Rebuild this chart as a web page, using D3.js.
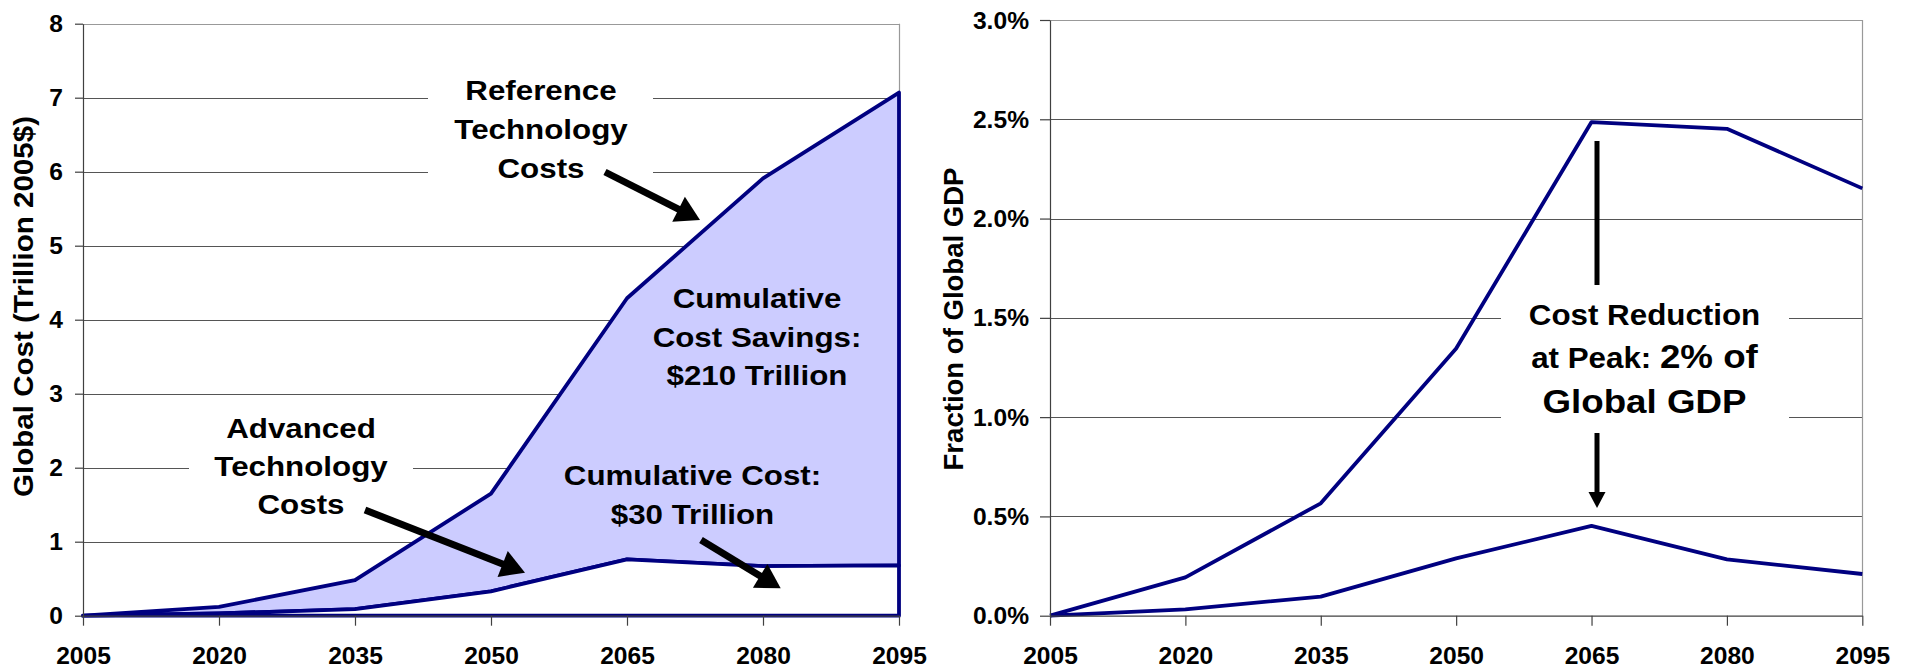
<!DOCTYPE html>
<html>
<head>
<meta charset="utf-8">
<script src="https://cdn.jsdelivr.net/npm/d3@7"></script>
<style>
  html, body { margin: 0; padding: 0; background: #fff; }
  svg { display: block; font-family: "Liberation Sans", Arial, sans-serif; font-weight: bold; }
</style>
</head>
<body>
<svg id="chart" width="1910" height="671"></svg>
<script>
// data
var years = [2005, 2020, 2035, 2050, 2065, 2080, 2095];
var refCost = [0, 0.12, 0.48, 1.65, 4.29, 5.91, 7.07];   // trillion 2005$
var advCost = [0, 0.03, 0.09, 0.33, 0.76, 0.67, 0.68];
var refGdp = [0, 0.193, 0.566, 1.346, 2.486, 2.452, 2.152]; // percent of GDP
var advGdp = [0, 0.032, 0.096, 0.289, 0.452, 0.284, 0.21];
var costTicks = [0, 1, 2, 3, 4, 5, 6, 7, 8];
var gdpTicks = [0, 0.5, 1.0, 1.5, 2.0, 2.5, 3.0];

var navy = "#000080";
var fillBlue = "#ccccff";
var gridColor = "#555";
var borderColor = "#999";
var sx = 1.07; // glyphs in the picture are a bit wider than Arial

var svg = d3.select("#chart");

function label(g, x, y, str, size, anchor, stretch) {
    return g.append("text")
        .attr("transform", "translate(" + x + "," + y + ") scale(" + stretch + ",1)")
        .attr("text-anchor", anchor)
        .attr("font-size", size)
        .attr("fill", "#000")
        .text(str);
}

function arrow(g, x1, y1, x2, y2, w, headLen, headW) {
    var dx = x2 - x1, dy = y2 - y1;
    var len = Math.sqrt(dx * dx + dy * dy);
    var ux = dx / len, uy = dy / len;
    var bx = x2 - ux * headLen, by = y2 - uy * headLen;
    g.append("line")
        .attr("x1", x1).attr("y1", y1)
        .attr("x2", bx + ux * 2).attr("y2", by + uy * 2)
        .attr("stroke", "#000").attr("stroke-width", w);
    var px = -uy * headW / 2, py = ux * headW / 2;
    g.append("path")
        .attr("d", "M" + x2 + "," + y2 + "L" + (bx + px) + "," + (by + py) + "L" + (bx - px) + "," + (by - py) + "Z")
        .attr("fill", "#000");
}

function grid(g, x, y, ticks) {
    var x0 = x.range()[0], x1 = x.range()[1];
    var yTop = y.range()[1], yBot = y.range()[0];

    g.append("g").selectAll("line")
        .data(ticks.slice(1))
        .enter().append("line")
        .attr("x1", x0).attr("x2", x1)
        .attr("y1", d => Math.round(y(d)) + 0.5)
        .attr("y2", d => Math.round(y(d)) + 0.5)
        .attr("stroke", (d, i) => i === ticks.length - 2 ? borderColor : gridColor)
        .attr("stroke-width", 1);

    // plot area border on the right
    g.append("line")
        .attr("x1", Math.round(x1) + 0.5).attr("x2", Math.round(x1) + 0.5)
        .attr("y1", yTop).attr("y2", yBot)
        .attr("stroke", borderColor).attr("stroke-width", 1.2);
}

function styleTicks(sel) {
    sel.attr("font-size", 23).attr("font-weight", "bold")
        .attr("font-family", "Liberation Sans, Arial, sans-serif")
        .attr("fill", "#000");
}

function drawAxes(g, x, y, ticks, fmt, yTickSize, yLabelX) {
    var yBot = y.range()[0];
    var ax = g.append("g")
        .attr("transform", "translate(0," + yBot + ")")
        .call(d3.axisBottom(x).tickValues(years).tickFormat(d3.format("d")).tickSize(10).tickSizeOuter(0));
    ax.select(".domain").attr("stroke", "#404040").attr("stroke-width", 1.2);
    ax.selectAll(".tick line").attr("stroke", "#404040").attr("stroke-width", 1.2);
    ax.selectAll("text")
        .attr("y", null).attr("dy", null)
        .attr("transform", "translate(0,48) scale(" + sx + ",1)")
        .call(styleTicks);

    var ay = g.append("g")
        .attr("transform", "translate(" + x.range()[0] + ",0)")
        .call(d3.axisLeft(y).tickValues(ticks).tickFormat(fmt).tickSize(yTickSize).tickSizeOuter(0));
    ay.select(".domain").attr("stroke", "#404040").attr("stroke-width", 1.2);
    ay.selectAll(".tick line").attr("stroke", "#404040").attr("stroke-width", 1.2);
    ay.selectAll("text")
        .attr("x", null).attr("dy", null)
        .attr("transform", "translate(" + yLabelX + ",8) scale(" + sx + ",1)")
        .call(styleTicks);
}

// ---------- left: global cost ----------
var left = svg.append("g");
var xL = d3.scaleLinear().domain([2005, 2095]).range([83, 899]);
var yL = d3.scaleLinear().domain([0, 8]).range([615.7, 23.7]);

grid(left, xL, yL, costTicks);

var costRows = years.map((yr, i) => ({ year: yr, ref: refCost[i], adv: advCost[i] }));

// stacked areas: savings band on top of the advanced-cost band
left.append("path")
    .datum(costRows)
    .attr("d", d3.area().x(d => xL(d.year)).y0(d => yL(d.adv)).y1(d => yL(d.ref)))
    .attr("fill", fillBlue).attr("stroke", navy).attr("stroke-width", 3.8)
    .attr("stroke-linejoin", "round");

left.append("path")
    .datum(costRows)
    .attr("d", d3.area().x(d => xL(d.year)).y0(yL(0)).y1(d => yL(d.adv)))
    .attr("fill", "#fff").attr("stroke", navy).attr("stroke-width", 3.8)
    .attr("stroke-linejoin", "round");

drawAxes(left, xL, yL, costTicks, d3.format("d"), 8, -20);

// label boxes that hide the gridlines
left.append("rect").attr("x", 428).attr("y", 60).attr("width", 225).attr("height", 130).attr("fill", "#fff");
left.append("rect").attr("x", 189).attr("y", 410).attr("width", 224).attr("height", 115).attr("fill", "#fff");

var sL = 1.16;
label(left, 541, 100, "Reference", 27, "middle", sL);
label(left, 541, 139, "Technology", 27, "middle", sL);
label(left, 541, 178, "Costs", 27, "middle", sL);
arrow(left, 605, 172, 700, 220, 7, 24, 28);

label(left, 757, 308, "Cumulative", 27, "middle", sL);
label(left, 757, 346.5, "Cost Savings:", 27, "middle", sL);
label(left, 757, 385, "$210 Trillion", 27, "middle", sL);

label(left, 301, 438, "Advanced", 27, "middle", sL);
label(left, 301, 476, "Technology", 27, "middle", sL);
label(left, 301, 514, "Costs", 27, "middle", sL);
arrow(left, 365, 510, 525, 572.7, 7, 24, 28);

label(left, 692.5, 485, "Cumulative Cost:", 27, "middle", sL);
label(left, 692.5, 523.5, "$30 Trillion", 27, "middle", sL);
arrow(left, 701, 540, 780.7, 588.3, 7, 24, 28);

left.append("text")
    .attr("transform", "translate(33,306.5) rotate(-90) scale(1.095,1)")
    .attr("text-anchor", "middle").attr("font-size", 27)
    .text("Global Cost (Trillion 2005$)");

// ---------- right: fraction of GDP ----------
var right = svg.append("g");
var xR = d3.scaleLinear().domain([2005, 2095]).range([1050, 1862.3]);
var yR = d3.scaleLinear().domain([0, 3.0]).range([615.7, 20]);

grid(right, xR, yR, gdpTicks);

var gdpLine = d3.line().x((d, i) => xR(years[i])).y(d => yR(d));
[refGdp, advGdp].forEach(function (series) {
    right.append("path")
        .datum(series)
        .attr("d", gdpLine)
        .attr("fill", "none").attr("stroke", navy).attr("stroke-width", 3.8)
        .attr("stroke-linejoin", "round");
});

drawAxes(right, xR, yR, gdpTicks, d => d.toFixed(1) + "%", 10, -21);

right.append("rect").attr("x", 1501).attr("y", 290).attr("width", 288).attr("height", 140).attr("fill", "#fff");

var sR = 1.08;
label(right, 1644.5, 325, "Cost Reduction", 29, "middle", sR);
var peak = right.append("text")
    .attr("transform", "translate(1644.5,368) scale(" + sR + ",1)")
    .attr("text-anchor", "middle");
peak.append("tspan").attr("font-size", 29).text("at Peak: ");
peak.append("tspan").attr("font-size", 34).text("2% of");
label(right, 1644.5, 413, "Global GDP", 34, "middle", sR);

right.append("line")
    .attr("x1", 1597).attr("x2", 1597).attr("y1", 141).attr("y2", 285)
    .attr("stroke", "#000").attr("stroke-width", 5);
arrow(right, 1597, 433, 1597, 508, 5, 16, 17);

right.append("text")
    .attr("transform", "translate(963,319) rotate(-90) scale(1.02,1)")
    .attr("text-anchor", "middle").attr("font-size", 27)
    .text("Fraction of Global GDP");
</script>
</body>
</html>
